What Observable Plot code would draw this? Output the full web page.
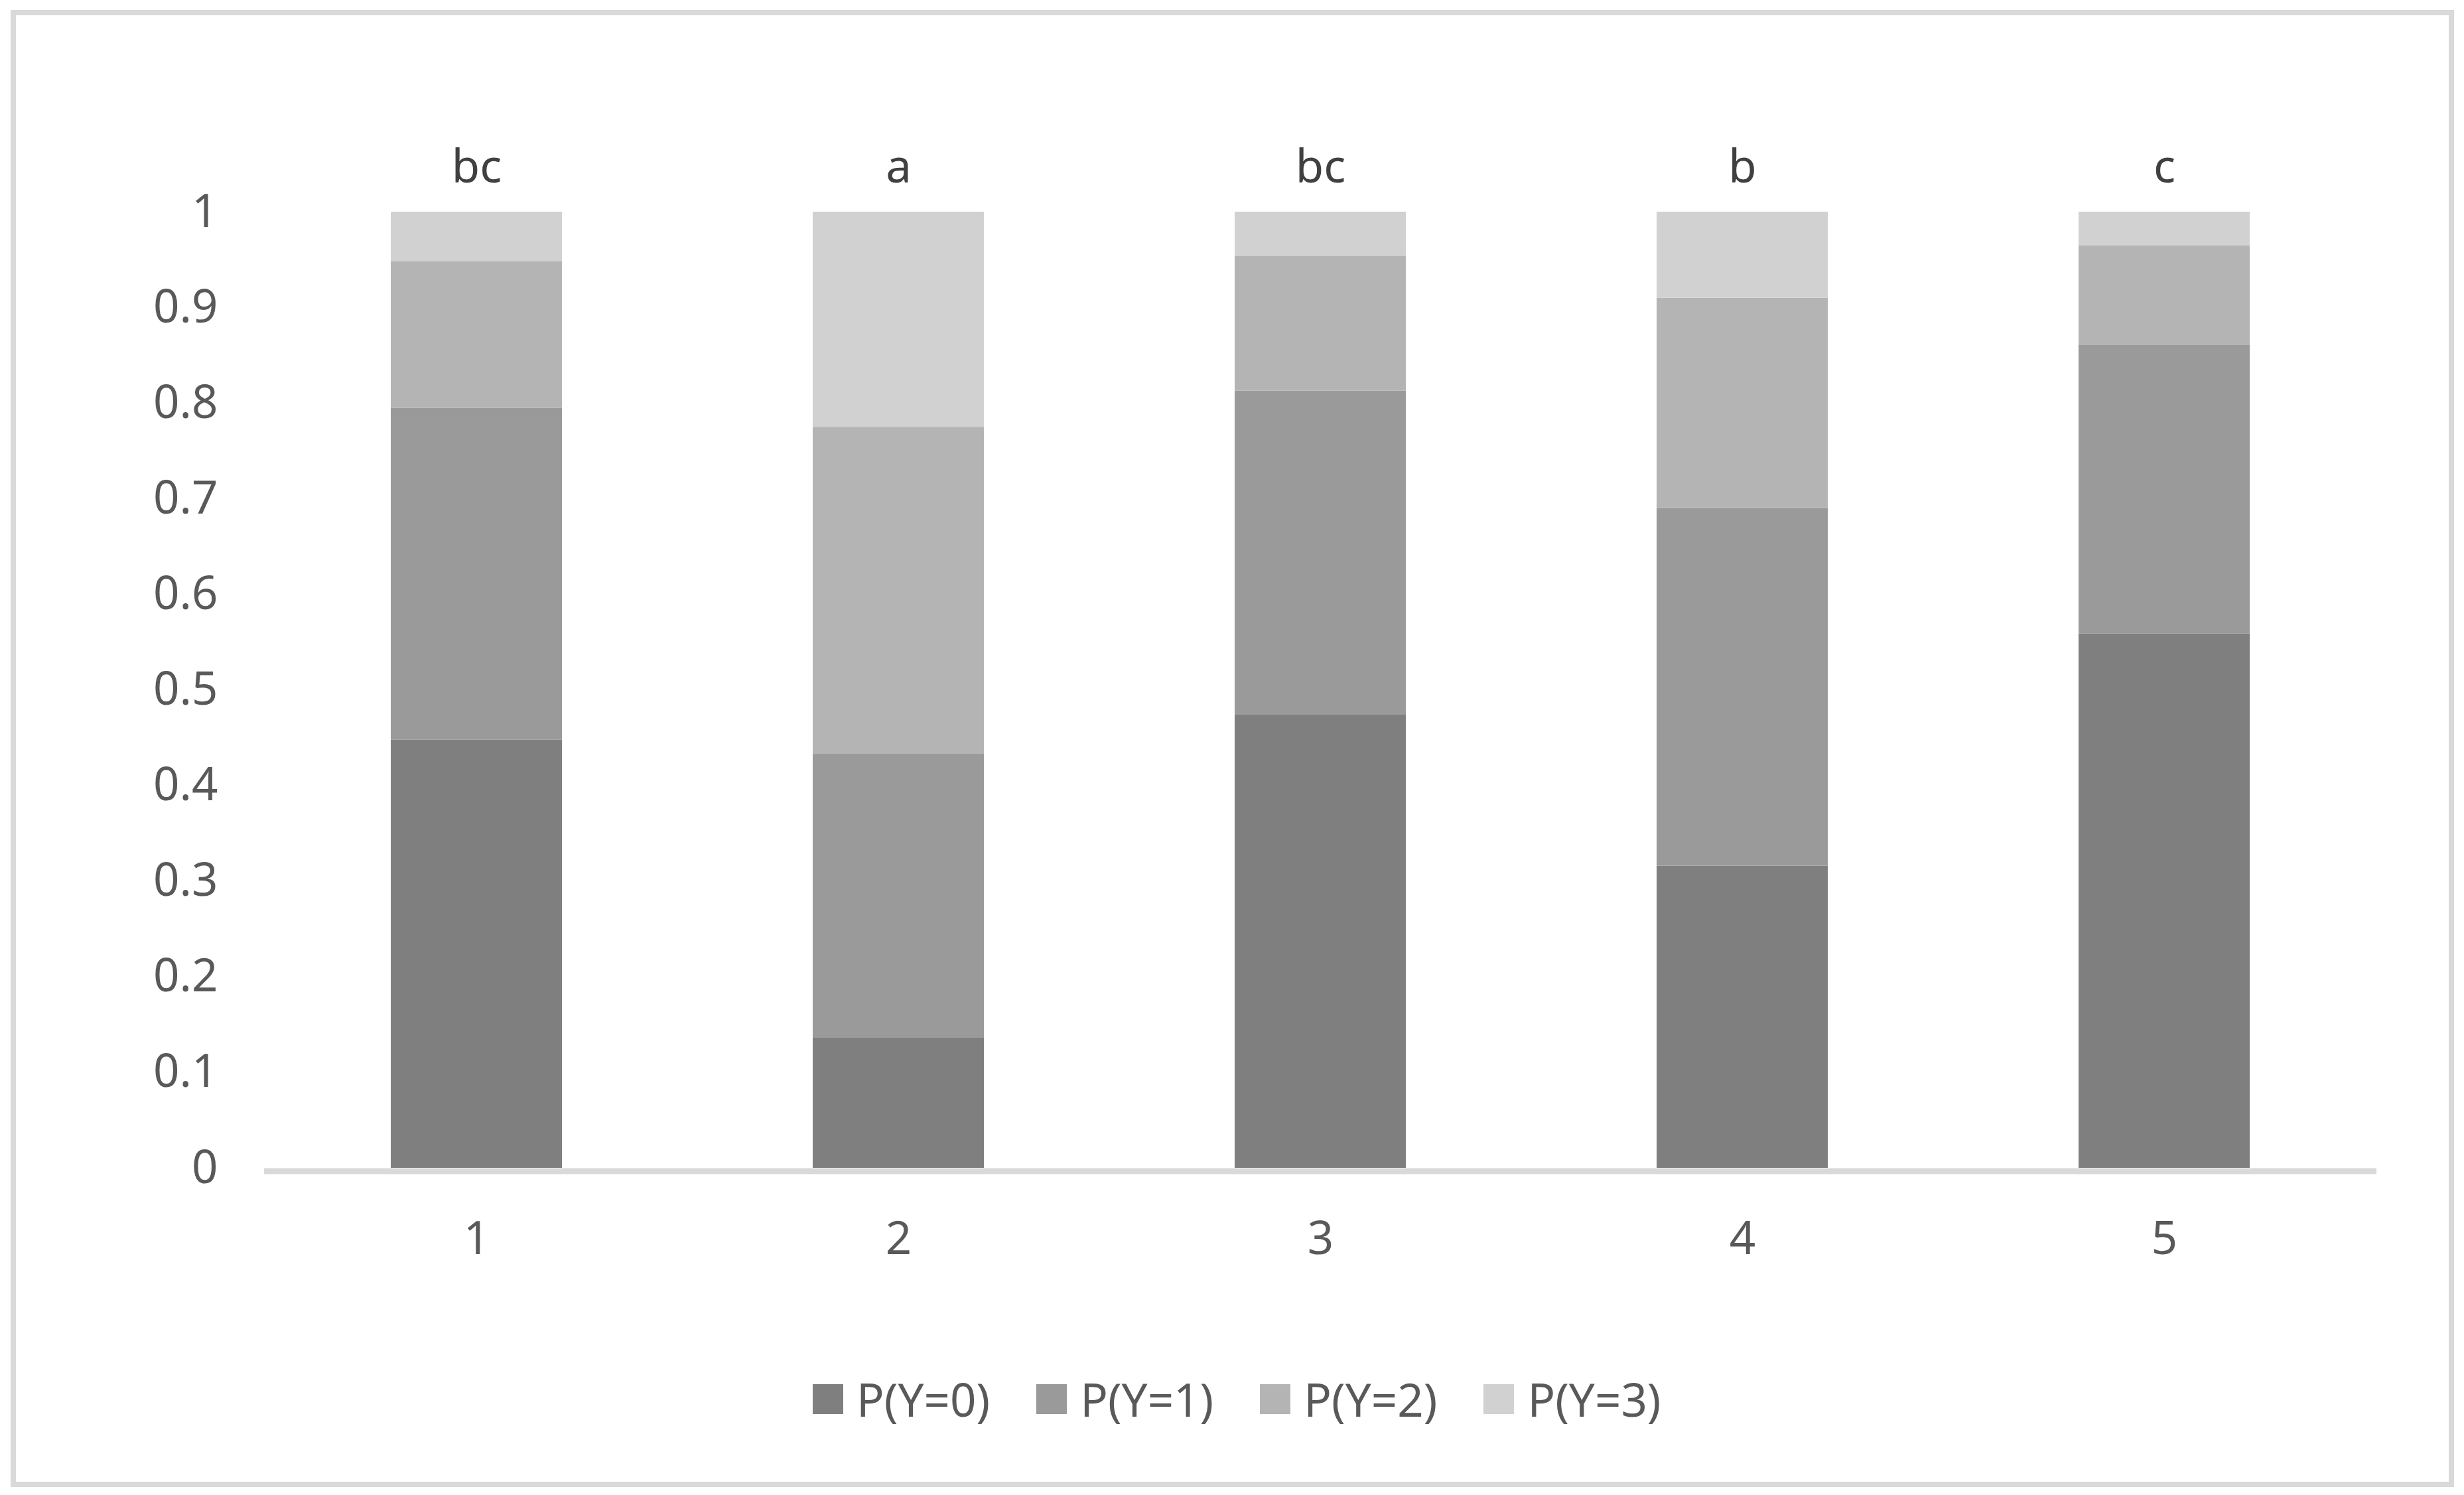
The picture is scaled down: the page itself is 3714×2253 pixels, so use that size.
<!DOCTYPE html>
<html>
<head>
<meta charset="utf-8">
<script src="https://cdn.jsdelivr.net/npm/d3@7"></script>
<script src="https://cdn.jsdelivr.net/npm/@observablehq/plot@0.6"></script>
<style>
  html, body { margin: 0; padding: 0; background: #ffffff; }
  #wrap { position: relative; width: 3714px; height: 2253px; background: #ffffff; overflow: hidden; }
  #frame { position: absolute; left: 16px; top: 15px; width: 3683px; height: 2226px; border: 8px solid #d9d9d9; box-sizing: border-box; pointer-events: none; }
  #chart { position: absolute; left: 0; top: 0; }
  #legend { position: absolute; left: 1225px; top: 2061px; display: flex; align-items: center; font-family: "Noto Sans", sans-serif; font-size: 69px; color: #595959; line-height: 94px; }
  .item { display: flex; align-items: center; margin-right: 70px; }
  .sw { width: 46px; height: 45px; margin-right: 20px; }
</style>
</head>
<body>
<div id="wrap">
  <div id="chart"></div>
  <div id="legend"></div>
  <div id="frame"></div>
</div>
<script>
const groups = ["1", "2", "3", "4", "5"];
const series = ["P(Y=0)", "P(Y=1)", "P(Y=2)", "P(Y=3)"];
const pY0 = [0.448, 0.136, 0.474, 0.316, 0.559];
const pY1 = [0.347, 0.297, 0.339, 0.374, 0.302];
const pY2 = [0.153, 0.342, 0.141, 0.220, 0.104];
const pY3 = [0.052, 0.225, 0.046, 0.090, 0.035];
const letters = ["bc", "a", "bc", "b", "c"];
const yTicks = [0, 0.1, 0.2, 0.3, 0.4, 0.5, 0.6, 0.7, 0.8, 0.9, 1];
const colors = ["#7f7f7f", "#9a9a9a", "#b4b4b4", "#d1d1d1"];

const seriesValues = [pY0, pY1, pY2, pY3];
const rows = [];
groups.forEach((g, i) => {
  series.forEach((s, j) => rows.push({group: g, series: s, value: seriesValues[j][i]}));
});
const labelRows = groups.map((g, i) => ({
  group: g,
  letter: letters[i],
  total: d3.sum(seriesValues, v => v[i])
}));

const chart = Plot.plot({
  width: 3714,
  height: 1990,
  marginLeft: 398,
  marginRight: 132,
  marginTop: 319,
  marginBottom: 230,
  style: {fontFamily: "'Noto Sans', sans-serif", fontSize: "69px", color: "#595959", background: "transparent", overflow: "visible"},
  x: {domain: groups, paddingInner: 0.595, paddingOuter: 0.2975, label: null},
  y: {domain: [0, 1], label: null},
  color: {domain: series, range: colors},
  marks: [
    Plot.axisY({ticks: yTicks, tickSize: 0, tickPadding: 70, tickFormat: d => String(d), label: null, fontSize: 69}),
    Plot.axisX({tickSize: 0, tickPadding: 80, label: null, fontSize: 69}),
    Plot.barY(rows, {x: "group", y: "value", fill: "series"}),
    Plot.ruleY([0], {stroke: "#d9d9d9", strokeWidth: 9, dy: 4.5}),
    Plot.text(labelRows, {x: "group", y: "total", text: "letter", lineAnchor: "bottom", dy: -45, fill: "#404040", fontSize: 69})
  ]
});
document.getElementById("chart").appendChild(chart);

const legend = document.getElementById("legend");
series.forEach((s, j) => {
  const item = document.createElement("div");
  item.className = "item";
  const sw = document.createElement("div");
  sw.className = "sw";
  sw.style.background = colors[j];
  const lab = document.createElement("span");
  lab.textContent = s;
  item.appendChild(sw);
  item.appendChild(lab);
  legend.appendChild(item);
});
</script>
</body>
</html>
